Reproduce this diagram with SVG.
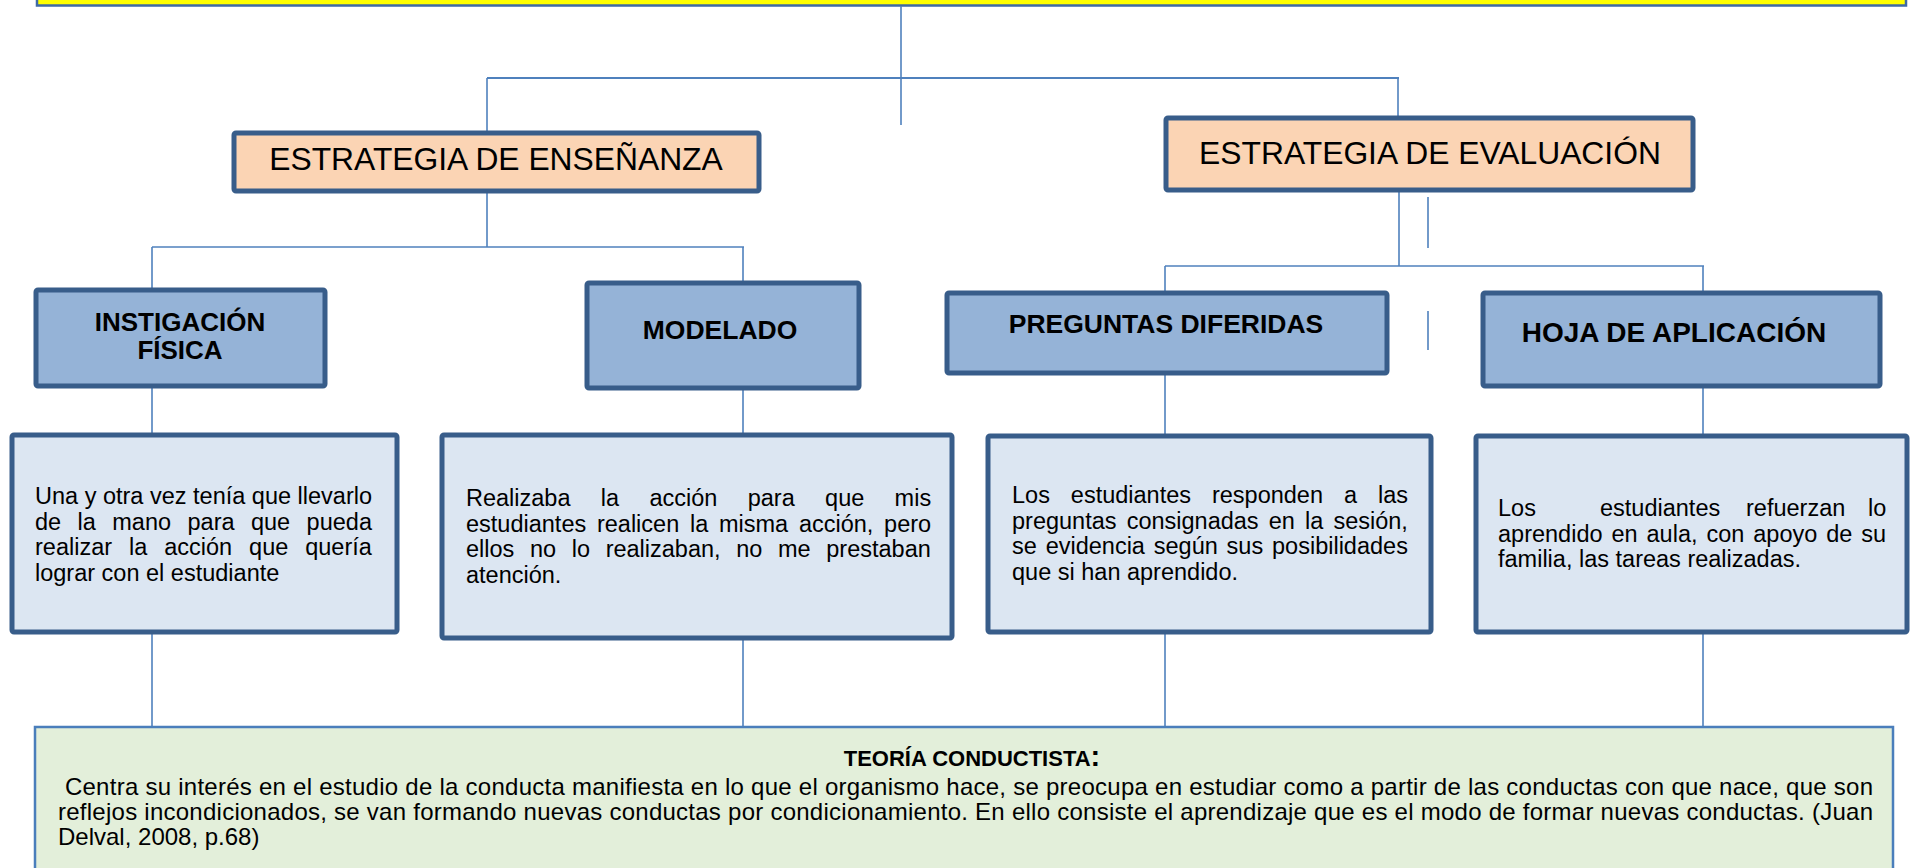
<svg xmlns="http://www.w3.org/2000/svg" width="1910" height="868" viewBox="0 0 1910 868">
<style>
.conn line{stroke:#4F81BD;stroke-width:1.6;fill:none}
.peach{fill:#FBD4B4;stroke:#385D8A;stroke-width:5}
.head{fill:#95B3D7;stroke:#385D8A;stroke-width:5}
.txtbox{fill:#DCE6F2;stroke:#385D8A;stroke-width:5}
.t{font-family:"Liberation Sans",Arial,sans-serif;fill:#000}
.big{font-size:31.8px}
.bold{font-size:26px;font-weight:bold}
.body{font-size:23.5px}
.para{font-size:24px}
</style>
<rect x="0" y="0" width="1910" height="868" fill="#FFFFFF"/>
<g id="title-bar">
<rect x="37" y="-10" width="1869" height="15.5" fill="#FFFF00" stroke="#3F6AA5" stroke-width="2.5"/>
</g>
<g id="connectors" class="conn">
<line x1="901" y1="6" x2="901" y2="125"/>
<line x1="487" y1="78" x2="1399" y2="78" style="stroke-width:2.2"/>
<line x1="487" y1="78" x2="487" y2="133"/>
<line x1="1398" y1="78" x2="1398" y2="118"/>
<line x1="487" y1="191" x2="487" y2="247"/>
<line x1="152" y1="247" x2="744" y2="247"/>
<line x1="152" y1="247" x2="152" y2="290"/>
<line x1="743" y1="247" x2="743" y2="283"/>
<line x1="1399" y1="190" x2="1399" y2="266"/>
<line x1="1165" y1="266" x2="1704" y2="266"/>
<line x1="1165" y1="266" x2="1165" y2="293"/>
<line x1="1703" y1="266" x2="1703" y2="293"/>
<line x1="1428" y1="197" x2="1428" y2="248"/>
<line x1="1428" y1="311" x2="1428" y2="350"/>
<line x1="152" y1="386" x2="152" y2="435"/>
<line x1="743" y1="388" x2="743" y2="435"/>
<line x1="1165" y1="373" x2="1165" y2="436"/>
<line x1="1703" y1="386" x2="1703" y2="436"/>
<line x1="152" y1="632" x2="152" y2="727"/>
<line x1="743" y1="638" x2="743" y2="727"/>
<line x1="1165" y1="632" x2="1165" y2="727"/>
<line x1="1703" y1="632" x2="1703" y2="727"/>
</g>
<g id="estrategia-ensenanza">
<rect class="peach" x="234" y="133" width="525" height="58" rx="2"/>
<text class="t big" x="496" y="170" text-anchor="middle">ESTRATEGIA DE ENSEÑANZA</text>
</g>
<g id="estrategia-evaluacion">
<rect class="peach" x="1166" y="118" width="527" height="72" rx="2"/>
<text class="t big" x="1430" y="164" text-anchor="middle">ESTRATEGIA DE EVALUACIÓN</text>
</g>
<g id="instigacion">
<rect class="head" x="36" y="290" width="289" height="96" rx="2"/>
<text class="t bold" x="180" y="331" text-anchor="middle">INSTIGACIÓN</text>
<text class="t bold" x="180" y="359" text-anchor="middle">FÍSICA</text>
</g>
<g id="modelado">
<rect class="head" x="587" y="283" width="272" height="105" rx="2"/>
<text class="t bold" x="720" y="339" text-anchor="middle" style="font-size:26.5px">MODELADO</text>
</g>
<g id="preguntas">
<rect class="head" x="947" y="293" width="440" height="80" rx="2"/>
<text class="t bold" x="1166" y="333" text-anchor="middle" style="font-size:26.5px">PREGUNTAS DIFERIDAS</text>
</g>
<g id="hoja">
<rect class="head" x="1483" y="293" width="397" height="93" rx="2"/>
<text class="t bold" x="1674" y="342" text-anchor="middle" style="font-size:28px">HOJA DE APLICACIÓN</text>
</g>
<g id="texto-instigacion">
<rect class="txtbox" x="12" y="435" width="385" height="197" rx="2"/>
<text class="t body" x="35" y="504">Una y otra vez tenía que llevarlo</text>
<text class="t body" x="35" y="529.5" word-spacing="9.9">de la mano para que pueda</text>
<text class="t body" x="35" y="555" word-spacing="10.4">realizar la acción que quería</text>
<text class="t body" x="35" y="580.5">lograr con el estudiante</text>
</g>
<g id="texto-modelado">
<rect class="txtbox" x="442" y="435" width="510" height="203" rx="2"/>
<text class="t body" x="466" y="506" word-spacing="23.8">Realizaba la acción para que mis</text>
<text class="t body" x="466" y="531.5" word-spacing="4.2">estudiantes realicen la misma acción, pero</text>
<text class="t body" x="466" y="557" word-spacing="9.1">ellos no lo realizaban, no me prestaban</text>
<text class="t body" x="466" y="582.5">atención.</text>
</g>
<g id="texto-preguntas">
<rect class="txtbox" x="988" y="436" width="443" height="196" rx="2"/>
<text class="t body" x="1012" y="503" word-spacing="14.4">Los estudiantes responden a las</text>
<text class="t body" x="1012" y="528.5" word-spacing="3.6">preguntas consignadas en la sesión,</text>
<text class="t body" x="1012" y="554" word-spacing="2.3">se evidencia según sus posibilidades</text>
<text class="t body" x="1012" y="579.5">que si han aprendido.</text>
</g>
<g id="texto-hoja">
<rect class="txtbox" x="1476" y="436" width="431" height="196" rx="2"/>
<text class="t body" y="516"><tspan x="1498">Los</tspan><tspan x="1600">estudiantes</tspan><tspan x="1746">refuerzan</tspan><tspan x="1868">lo</tspan></text>
<text class="t body" x="1498" y="541.5" word-spacing="2.4">aprendido en aula, con apoyo de su</text>
<text class="t body" x="1498" y="567">familia, las tareas realizadas.</text>
</g>
<g id="teoria-conductista">
<rect x="35" y="727" width="1858" height="180" fill="#E3EFDA" stroke="#4A7EBB" stroke-width="2.5"/>
<text class="t" x="972" y="766" text-anchor="middle" style="font-size:22px;font-weight:bold">TEORÍA CONDUCTISTA<tspan style="font-size:29px">:</tspan></text>
<text class="t para" x="58" y="795" textLength="1815" lengthAdjust="spacing" xml:space="preserve"> Centra su interés en el estudio de la conducta manifiesta en lo que el organismo hace, se preocupa en estudiar como a partir de las conductas con que nace, que son</text>
<text class="t para" x="58" y="820" textLength="1815" lengthAdjust="spacing">reflejos incondicionados, se van formando nuevas conductas por condicionamiento. En ello consiste el aprendizaje que es el modo de formar nuevas conductas. (Juan</text>
<text class="t para" x="58" y="845">Delval, 2008, p.68)</text>
</g>
</svg>
